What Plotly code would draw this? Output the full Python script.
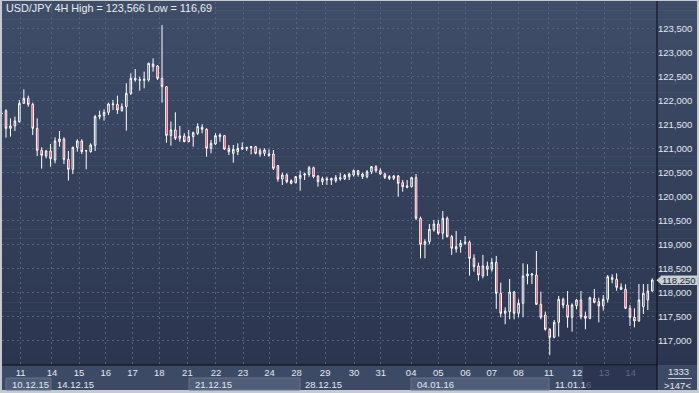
import plotly.graph_objects as go

# ---------------- data ----------------
opens = [
    121.720, 121.784, 121.416, 121.465, 121.555, 121.937, 122.041, 121.916, 121.416, 120.958,
    120.840, 120.944, 120.756, 121.138, 121.194, 120.770, 120.562, 121.020, 121.152, 120.944,
    120.930, 121.062, 121.659, 121.680, 121.749, 121.909, 121.916, 121.784, 121.867, 122.145,
    122.423, 122.416, 122.416, 122.423, 122.701, 122.715, 122.458, 122.284, 121.264, 121.382,
    121.208, 121.257, 121.139, 121.243, 121.312, 121.437, 121.396, 121.000, 121.090, 121.242,
    121.263, 120.999, 120.895, 120.930, 120.985, 120.999, 121.013, 121.034, 120.950, 120.895,
    120.881, 120.881, 120.638, 120.360, 120.443, 120.270, 120.284, 120.374, 120.444, 120.457,
    120.596, 120.423, 120.305, 120.339, 120.339, 120.325, 120.360, 120.367, 120.409, 120.443,
    120.534, 120.409, 120.409, 120.513, 120.617, 120.534, 120.464, 120.374, 120.374, 120.423,
    120.284, 120.187, 120.200, 120.388, 119.541, 118.999, 119.055, 119.298, 119.423, 119.229,
    119.541, 119.159, 118.902, 118.951, 119.021, 119.042, 118.708, 118.548, 118.340, 118.548,
    118.479, 118.625, 117.979, 117.562, 117.597, 118.006, 117.562, 117.770, 118.340, 118.360,
    118.360, 117.749, 117.527, 117.229, 117.062, 117.374, 117.854, 117.735, 117.479, 117.722,
    117.840, 117.506, 117.458, 117.874, 117.805, 117.715, 117.854, 118.305, 118.270, 118.104,
    118.062, 117.666, 117.479, 117.402, 117.701, 117.840, 118.027,
]
highs = [
    121.784, 121.812, 121.624, 121.659, 122.006, 122.229, 122.097, 121.951, 121.624, 121.020,
    120.965, 121.090, 121.229, 121.361, 121.229, 120.944, 121.034, 121.187, 121.187, 120.965,
    121.104, 121.694, 121.784, 121.812, 121.951, 122.006, 122.097, 121.937, 122.354, 122.562,
    122.652, 122.492, 122.597, 122.784, 122.874, 122.735, 123.566, 122.298, 121.560, 121.750,
    121.465, 121.312, 121.382, 121.347, 121.521, 121.500, 121.416, 121.173, 121.312, 121.312,
    121.277, 121.069, 121.069, 121.103, 121.124, 121.034, 121.048, 121.048, 120.999, 120.999,
    120.978, 120.964, 120.652, 120.492, 120.478, 120.353, 120.423, 120.534, 120.492, 120.631,
    120.617, 120.443, 120.409, 120.409, 120.388, 120.443, 120.492, 120.464, 120.492, 120.562,
    120.548, 120.492, 120.548, 120.631, 120.645, 120.582, 120.492, 120.443, 120.443, 120.443,
    120.339, 120.339, 120.409, 120.464, 119.576, 119.104, 119.423, 119.507, 119.507, 119.694,
    119.576, 119.194, 119.278, 119.090, 119.173, 119.076, 118.791, 118.618, 118.778, 118.639,
    118.708, 118.757, 118.201, 117.687, 118.277, 118.027, 117.854, 118.604, 118.583, 118.395,
    118.860, 118.013, 117.597, 117.250, 117.423, 117.923, 117.888, 118.027, 117.770, 117.860,
    118.027, 117.597, 117.909, 118.069, 117.888, 117.944, 118.360, 118.374, 118.395, 118.187,
    118.166, 117.735, 117.666, 118.173, 118.173, 118.173, 118.291,
]
lows = [
    121.659, 121.222, 121.243, 121.361, 121.534, 121.923, 121.867, 121.277, 120.840, 120.576,
    120.791, 120.617, 120.687, 121.034, 120.673, 120.326, 120.465, 120.930, 120.881, 120.562,
    120.909, 120.944, 121.604, 121.576, 121.694, 121.798, 121.715, 121.763, 121.367, 122.111,
    122.388, 122.201, 122.249, 122.388, 122.597, 122.423, 121.951, 121.117, 121.055, 121.173,
    121.139, 121.125, 121.125, 121.034, 121.277, 121.312, 120.826, 120.896, 121.069, 121.138,
    120.964, 120.860, 120.700, 120.860, 120.964, 120.944, 120.874, 120.874, 120.825, 120.839,
    120.825, 120.548, 120.305, 120.235, 120.270, 120.249, 120.270, 120.117, 120.339, 120.409,
    120.374, 120.200, 120.235, 120.235, 120.235, 120.284, 120.325, 120.339, 120.339, 120.409,
    120.409, 120.360, 120.374, 120.464, 120.492, 120.444, 120.360, 120.339, 120.339, 119.992,
    120.096, 120.166, 120.187, 119.506, 118.708, 118.708, 118.999, 119.264, 119.194, 119.104,
    119.146, 118.778, 118.826, 118.826, 118.986, 118.347, 118.430, 118.243, 118.291, 118.340,
    118.430, 117.652, 117.479, 117.333, 117.437, 117.437, 117.479, 117.479, 118.166, 118.173,
    117.735, 117.437, 117.201, 116.690, 117.041, 117.076, 117.666, 117.263, 117.180, 117.645,
    117.437, 117.229, 117.437, 117.770, 117.374, 117.617, 117.784, 118.187, 118.034, 118.048,
    117.652, 117.298, 117.270, 117.388, 117.548, 117.631, 118.013,
]
closes = [
    121.730, 121.416, 121.465, 121.569, 121.937, 122.041, 121.916, 121.416, 120.958, 120.854,
    120.944, 120.784, 121.152, 121.194, 120.770, 120.562, 121.020, 121.152, 120.930, 120.951,
    121.069, 121.659, 121.687, 121.749, 121.923, 121.923, 121.798, 121.867, 122.145, 122.458,
    122.458, 122.430, 122.437, 122.770, 122.756, 122.458, 122.284, 121.270, 121.382, 121.208,
    121.257, 121.139, 121.243, 121.326, 121.451, 121.396, 121.000, 121.104, 121.264, 121.277,
    120.985, 120.930, 120.978, 120.999, 121.013, 121.013, 121.034, 120.895, 120.881, 120.964,
    120.853, 120.582, 120.360, 120.443, 120.305, 120.325, 120.409, 120.437, 120.464, 120.596,
    120.409, 120.305, 120.367, 120.360, 120.367, 120.388, 120.388, 120.437, 120.464, 120.534,
    120.457, 120.464, 120.513, 120.617, 120.534, 120.464, 120.395, 120.409, 120.423, 120.270,
    120.200, 120.214, 120.388, 119.541, 118.999, 119.055, 119.312, 119.423, 119.229, 119.541,
    119.159, 118.916, 118.951, 119.021, 119.042, 118.708, 118.534, 118.361, 118.548, 118.479,
    118.625, 117.979, 117.562, 117.611, 118.006, 117.562, 117.770, 118.340, 118.381, 118.381,
    117.749, 117.479, 117.229, 117.062, 117.374, 117.854, 117.735, 117.479, 117.735, 117.840,
    117.492, 117.458, 117.888, 117.791, 117.715, 117.854, 118.326, 118.270, 118.104, 118.062,
    117.666, 117.479, 117.402, 117.840, 117.979, 118.027, 118.256,
]
bar_index = list(range(len(opens)))

day_ticks = [4.3, 11.3, 17.4, 23.4, 29.4, 35.4, 41.7, 48.1, 54.2, 60.1, 66.2, 72.6,
             79.1, 85.1, 91.9, 98.0, 104.1, 110.0, 116.0, 122.8, 129.1, 135.2, 141.1]
day_labels = ["11", "14", "15", "16", "17", "18", "21", "22", "23", "24", "28", "29",
              "30", "31", "04", "05", "06", "07", "08", "11", "12", "13", "14"]
dim_days = [21, 22]  # positions of the dimmed labels (13, 14)
week_labels = ["10.12.15", "14.12.15", "21.12.15", "28.12.15", "04.01.16", "11.01.16"]
price_ticks = [117.0, 117.5, 118.0, 118.5, 119.0, 119.5, 120.0, 120.5,
               121.0, 121.5, 122.0, 122.5, 123.0, 123.5]
last_price = 118.25
title_text = "USD/JPY 4H High = 123,566 Low = 116,69"
bars_info = ["1333", ">147<"]

# ---------------- geometry helpers (pixels -> paper) ----------------
W, H = 699, 393
ML, MR, MT, MB = 2, 42, 2, 28
PW = W - ML - MR
PH = H - MT - MB


def px(x):
    return (x - ML) / PW


def py(y):
    return (H - MB - y) / PH


FONT = "Liberation Sans, Arial, sans-serif"
TXT = "#e3e8ef"

shapes = []
# gradient background (top -> bottom)
top_c = (63, 77, 104)
bot_c = (43, 53, 79)
N = 40
y_start, y_end = 1, 366
for k in range(N):
    t = k / (N - 1)
    c = tuple(round(top_c[i] + (bot_c[i] - top_c[i]) * t) for i in range(3))
    y0 = y_start + (y_end - y_start) * k / N
    y1 = y_start + (y_end - y_start) * (k + 1) / N
    shapes.append(dict(type="rect", xref="paper", yref="paper", layer="below",
                       x0=px(2), x1=px(697), y0=py(y1 + 0.5), y1=py(y0),
                       fillcolor="rgb(%d,%d,%d)" % c, line=dict(width=0)))
# bottom axis band
shapes.append(dict(type="rect", xref="paper", yref="paper", layer="below",
                   x0=px(2), x1=px(697), y0=py(390), y1=py(365),
                   fillcolor="#3d4a66", line=dict(width=0)))
# week boxes
for a, b in [(6, 51), (189, 300), (411, 549)]:
    shapes.append(dict(type="rect", xref="paper", yref="paper", layer="below",
                       x0=px(a), x1=px(b), y0=py(390), y1=py(378),
                       fillcolor="#4f5d79", line=dict(color="#66738e", width=1)))
# dark overlay at right of time axis
shapes.append(dict(type="rect", xref="paper", yref="paper", layer="below",
                   x0=px(583), x1=px(657), y0=py(390), y1=py(366),
                   fillcolor="#2c3551", line=dict(width=0)))
# black separators
shapes.append(dict(type="line", xref="paper", yref="paper", layer="above",
                   x0=px(657), x1=px(657), y0=py(390), y1=py(1),
                   line=dict(color="#0a0d14", width=1)))
shapes.append(dict(type="line", xref="paper", yref="paper", layer="above",
                   x0=px(2), x1=px(657), y0=py(365), y1=py(365),
                   line=dict(color="#0a0d14", width=1)))
# small line between the two right-bottom numbers
shapes.append(dict(type="line", xref="paper", yref="paper", layer="above",
                   x0=px(668), x1=px(692), y0=py(378.5), y1=py(378.5),
                   line=dict(color="#c9d0dc", width=1)))
# last price marker (box + arrow)
shapes.append(dict(type="rect", xref="paper", yref="y", layer="above",
                   x0=px(661), x1=px(697), y0=last_price - 0.1, y1=last_price + 0.1,
                   fillcolor="#c9cdd4", line=dict(width=0)))
ly = py(28.3 + (123.5 - last_price) * 48)
shapes.append(dict(type="path", xref="paper", yref="paper", layer="above",
                   path="M %f,%f L %f,%f L %f,%f Z" % (px(656.5), ly, px(661.5), ly + 4.8 / PH,
                                                       px(661.5), ly - 4.8 / PH),
                   fillcolor="#c9cdd4", line=dict(width=0)))

annotations = [
    dict(text=title_text, xref="paper", yref="paper", x=px(3.5), y=py(8),
         xanchor="left", yanchor="middle", showarrow=False,
         font=dict(family=FONT, size=10.8, color="#e8ecf2")),
    dict(text=bars_info[0], xref="paper", yref="paper", x=px(678.5), y=py(371.5),
         xanchor="center", yanchor="middle", showarrow=False,
         font=dict(family=FONT, size=9.5, color=TXT)),
    dict(text=bars_info[1], xref="paper", yref="paper", x=px(677.5), y=py(385),
         xanchor="center", yanchor="middle", showarrow=False,
         font=dict(family=FONT, size=9.5, color=TXT)),
    dict(text=("%.3f" % last_price).replace(".", ","), xref="paper", yref="y",
         x=px(679), y=last_price, xanchor="center", yanchor="middle", showarrow=False,
         font=dict(family=FONT, size=9.5, color="#1c2440")),
]
week_x = [10, 55, 193, 303, 415, 553]
for lab, xl in zip(week_labels, week_x):
    txt = lab
    if lab == week_labels[-1]:
        txt = lab[:-1] + '<span style="color:#5f6b86">' + lab[-1] + "</span>"
    annotations.append(dict(text=txt, xref="paper", yref="paper", x=px(xl), y=py(384.5),
                            xanchor="left", yanchor="middle", showarrow=False,
                            font=dict(family=FONT, size=9.5, color=TXT)))

tick_text = [('<span style="color:#5f6b86">%s</span>' % t) if i in dim_days else t
             for i, t in enumerate(day_labels)]

fig = go.Figure(go.Candlestick(
    x=bar_index, open=opens, high=highs, low=lows, close=closes,
    increasing=dict(line=dict(color="#ffffff", width=1), fillcolor="rgba(0,0,0,0)"),
    decreasing=dict(line=dict(color="#ffffff", width=1), fillcolor="#e8062f"),
    whiskerwidth=0, showlegend=False, hoverinfo="skip",
))

GRID = "#56637d"
fig.update_layout(
    width=W, height=H,
    margin=dict(l=ML, r=MR, t=MT, b=MB, pad=0),
    paper_bgcolor="#c5cad2",
    plot_bgcolor="rgba(0,0,0,0)",
    separators=", ",
    boxgap=0.5,
    showlegend=False,
    font=dict(family=FONT, size=9.5, color=TXT),
    xaxis=dict(range=[0.103, 147.06], tickmode="array", tickvals=day_ticks, ticktext=tick_text,
               showgrid=True, gridcolor=GRID, griddash="2px,3px", gridwidth=1,
               zeroline=False, showline=False, ticks="",
               tickfont=dict(family=FONT, size=9.5, color=TXT),
               rangeslider=dict(visible=False), fixedrange=True),
    yaxis=dict(side="right", range=[116.485, 124.048], tickmode="array", tickvals=price_ticks,
               tickformat=".3f", showgrid=True, gridcolor=GRID, griddash="2px,3px", gridwidth=1,
               zeroline=False, showline=False, ticks="",
               tickfont=dict(family=FONT, size=9.5, color=TXT), fixedrange=True),
    shapes=shapes,
    annotations=annotations,
)

fig.write_html("out.html", config={"displayModeBar": False},
               post_script="document.body.style.margin='0px';")
